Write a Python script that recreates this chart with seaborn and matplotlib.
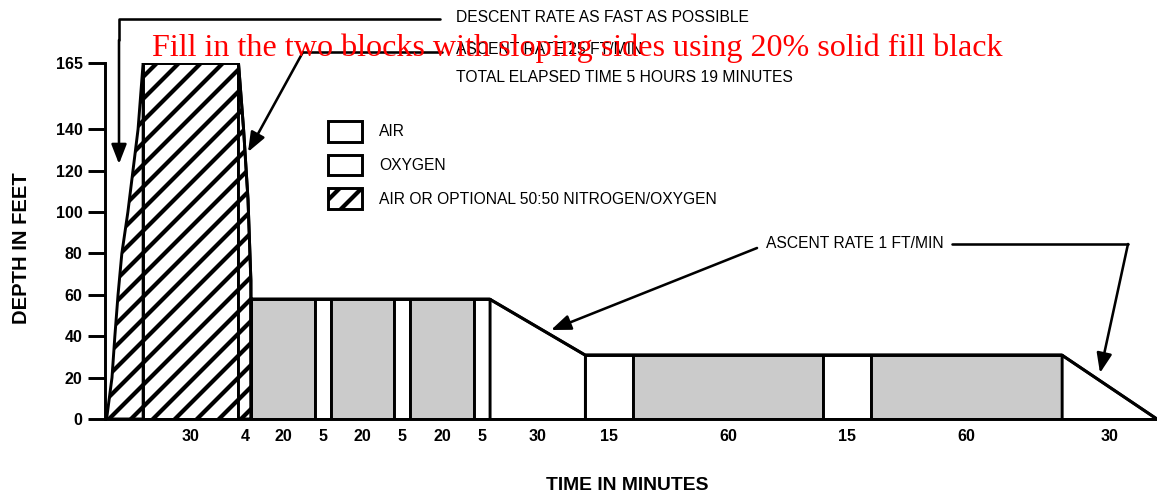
import numpy as np
import pandas as pd
import matplotlib.pyplot as plt
import seaborn as sns
from matplotlib.patches import Patch

# Данные профиля погружения
descent_time = [0.5, 2.2, 3.1, 4.1, 5.3, 7.2, 10.4, 12]
descent_depth = [0, 20, 40, 60, 80, 100, 140, 165]
descent_minutes = 12

seg_minutes = [30, 4, 20, 5, 20, 5, 20, 5, 30, 15, 60, 15, 60, 30]
seg_depth_start = [165, 165, 58, 58, 58, 58, 58, 58, 58, 31, 31, 31, 31, 31]
seg_depth_end = [165, 0, 58, 58, 58, 58, 58, 58, 31, 31, 31, 31, 31, 0]
seg_gas = ['mix', 'mix', 'oxygen', 'air', 'oxygen', 'air', 'oxygen', 'air',
           'air', 'air', 'oxygen', 'air', 'oxygen', 'air']

# боковая сторона 4-минутного подъёма (слегка изогнута)
ascent25_offset = [0, 1.6, 3.0, 3.9, 4]
ascent25_depth = [165, 140, 106, 67, 0]

y_ticks = [0, 20, 40, 60, 80, 100, 120, 140, 165]
legend_labels = ['AIR', 'OXYGEN', 'AIR OR OPTIONAL 50:50 NITROGEN/OXYGEN']

W, H, DPI = 1157, 492, 66
LW = 3.2

sns.set_theme(style='ticks')
plt.rcParams['font.family'] = ['Liberation Sans', 'DejaVu Sans']
plt.rcParams['hatch.linewidth'] = 4.6
plt.rcParams['hatch.color'] = 'black'
for k in ['text.color', 'axes.labelcolor', 'xtick.color', 'ytick.color']:
    plt.rcParams[k] = 'black'


def P(x, y):
    return (x / W, 1 - y / H)


def fwd(y):
    y = np.asarray(y, dtype=float)
    return np.where(y > 140, 140 + (y - 140) * 1.28, y)


def inv(y):
    y = np.asarray(y, dtype=float)
    return np.where(y > 140, 140 + (y - 140) / 1.28, y)


fig = plt.figure(figsize=(W / DPI, H / DPI), dpi=DPI)
ax = fig.add_axes([105 / W, (H - 419) / H, 1052 / W, 356 / H])
ax.set_yscale('function', functions=(fwd, inv))

fill = {'air': 'white', 'oxygen': '#cbcbcb', 'mix': 'white'}

# спуск
ax.fill_between(descent_time, 0, descent_depth, facecolor='white',
                edgecolor='black', hatch='/', lw=LW)

t = descent_minutes
mids = []
rows = []
for dur, d0, d1, gas in zip(seg_minutes, seg_depth_start, seg_depth_end, seg_gas):
    if gas == 'mix' and d1 == 0:
        xs = [t + o for o in ascent25_offset]
        ys = ascent25_depth
    else:
        xs = [t, t + dur]
        ys = [d0, d1]
    ax.fill_between(xs, 0, ys, facecolor=fill[gas], edgecolor='black',
                    hatch='/' if gas == 'mix' else None, lw=LW)
    rows += list(zip(xs, ys))
    mids.append(t + dur / 2)
    t += dur

profile = pd.DataFrame(rows, columns=['time', 'depth'])
sns.lineplot(data=profile, x='time', y='depth', sort=False, color='black',
             lw=LW, ax=ax, estimator=None)

ax.set_xlim(0, t)
ax.set_ylim(0, 165)
ax.set_xlabel('')
ax.set_ylabel('')
ax.spines[['top', 'right']].set_visible(False)
ax.spines['left'].set_bounds(0, 165)
for s in ['left', 'bottom']:
    ax.spines[s].set_linewidth(LW)
    ax.spines[s].set_color('black')

ax.set_yticks(y_ticks, [str(v) for v in y_ticks])
ax.set_xticks(mids, [str(m) for m in seg_minutes])
ax.tick_params(axis='y', length=18.5, width=LW, pad=6, labelsize=17.5)
ax.tick_params(axis='x', length=0, pad=11, labelsize=17.5)
for lbl in ax.get_yticklabels() + ax.get_xticklabels():
    lbl.set_fontweight('bold')

# легенда
handles = [Patch(facecolor='white', edgecolor='black', lw=LW),
           Patch(facecolor='white', edgecolor='black', lw=LW),
           Patch(facecolor='white', edgecolor='black', lw=LW, hatch='/')]
fig.legend(handles, legend_labels, loc='upper left', bbox_to_anchor=P(328, 121),
           bbox_transform=fig.transFigure, frameon=False, fontsize=17,
           handlelength=2.2, handleheight=1.67, handletextpad=1.1,
           labelspacing=0.83, borderpad=0, borderaxespad=0)

# подписи и стрелки
fs = 17
fig.text(*P(456, 18), 'DESCENT RATE AS FAST AS POSSIBLE', va='center', fontsize=fs)
fig.text(*P(456, 50), 'ASCENT RATE 25 FT/MIN', va='center', fontsize=fs)
fig.text(*P(456, 78), 'TOTAL ELAPSED TIME 5 HOURS 19 MINUTES', va='center', fontsize=fs)
fig.text(*P(766, 243), 'ASCENT RATE 1 FT/MIN', va='center', fontsize=fs)

arrow_lw = 2.8


def line(pts):
    xs, ys = zip(*[P(*p) for p in pts])
    fig.add_artist(plt.Line2D(xs, ys, transform=fig.transFigure,
                              color='black', lw=arrow_lw))


def arrow(start, tip):
    ax.annotate('', xy=P(*tip), xycoords='figure fraction',
                xytext=P(*start), textcoords='figure fraction',
                arrowprops=dict(arrowstyle='-|>,head_length=0.9,head_width=0.35',
                                color='black', lw=arrow_lw, shrinkA=0, shrinkB=0,
                                mutation_scale=20),
                annotation_clip=False)


line([(440, 19), (119, 19), (119, 40)])
arrow((119, 40), (119, 164))
line([(442, 52), (303, 52)])
arrow((303, 52), (248, 152))
arrow((757, 248), (551, 330))
line([(952, 244), (1128, 244)])
arrow((1128, 244), (1100, 373))

fig.text(*P(152, 56), 'Fill in the two blocks with sloping sides using 20% solid fill black',
         color='red', fontsize=35, family=['Liberation Serif'], va='baseline',
         zorder=10)

fig.text(*P(22, 248), 'DEPTH IN FEET', rotation=90, fontsize=22,
         fontweight='bold', va='center', ha='center')
fig.text(*P(627, 485), 'TIME IN MINUTES', fontsize=21, fontweight='bold',
         va='center', ha='center')

fig.savefig('out.png', dpi=DPI)
